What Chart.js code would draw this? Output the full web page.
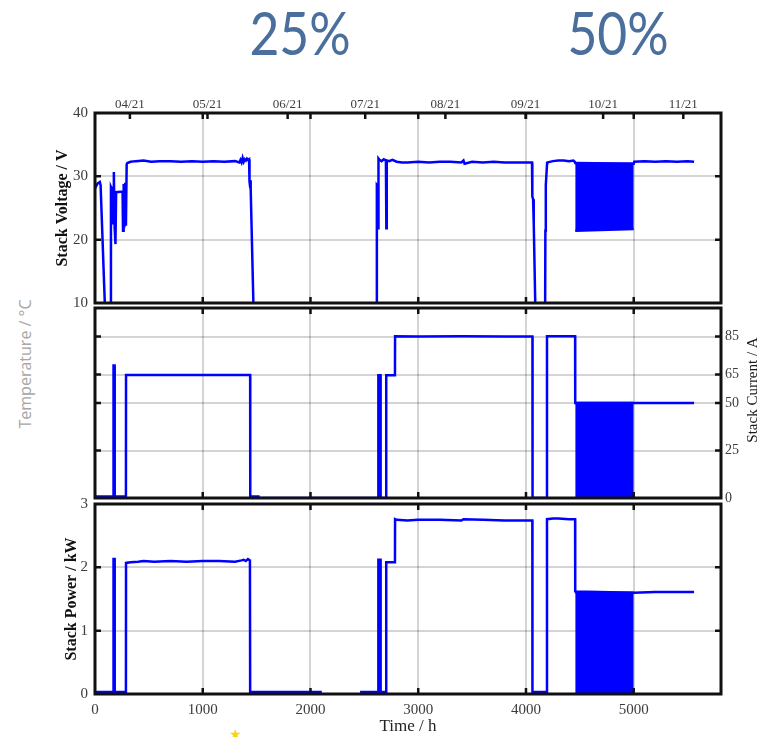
<!DOCTYPE html>
<html>
<head>
<meta charset="utf-8">
<title>Stack operation</title>
<script src="https://cdn.jsdelivr.net/npm/chart.js@4.4.1/dist/chart.umd.min.js"></script>
<style>
  html, body { margin: 0; padding: 0; background: #fff; overflow: hidden; }
  #wrap { position: relative; width: 762px; height: 737px; overflow: hidden; background: #fff; }
  canvas { position: absolute; left: 0; }
  .pct {
    position: absolute; top: 2px; width: 200px; text-align: center;
    font-family: Lato, 'Open Sans', sans-serif; font-size: 60px; line-height: 60px;
    color: #4a6f9c; transform: scaleX(0.86); transform-origin: center;
  }
  .temp {
    position: absolute; left: -75px; top: 354px; width: 200px; height: 20px;
    text-align: center; line-height: 20px; white-space: nowrap;
    font-family: 'Open Sans', sans-serif; font-size: 16px; color: #a6a6a6;
    transform: rotate(-90deg); transform-origin: center;
  }
  .star { position: absolute; left: 229px; top: 727px; font-family: 'DejaVu Sans', sans-serif;
    font-size: 14px; color: #f7d417; line-height: 14px; }
</style>
</head>
<body>
<div id="wrap">
  <div class="pct" style="left:200px">25%</div>
  <div class="pct" style="left:518px">50%</div>
  <div class="temp">Temperature / °C</div>
  <canvas id="cV" width="762" height="240" style="top:80px"></canvas>
  <canvas id="cI" width="762" height="230" style="top:290px"></canvas>
  <canvas id="cP" width="762" height="257" style="top:480px"></canvas>
  <div class="star">★</div>
</div>
<script>
// ---------- axes ----------
const xTicks = [0, 1000, 2000, 3000, 4000, 5000];
const monthHours = [324, 1044, 1788, 2508, 3252, 3996, 4716, 5460];
const monthLabels = ['04/21', '05/21', '06/21', '07/21', '08/21', '09/21', '10/21', '11/21'];
const voltTicks = [10, 20, 30, 40];
const currentTicks = [0, 25, 50, 65, 85];
const powerTicks = [0, 1, 2, 3];

// ---------- stack voltage (V) ----------
const voltHours = [0, 10, 25, 45, 52, 91, 96, 146, 148, 158, 163, 168, 175, 182, 190, 196, 256, 260, 266, 272,
  280, 287, 294, 300, 330, 380, 450, 520, 600, 700, 800, 900, 1000, 1100, 1200, 1300, 1340, 1350, 1360, 1370,
  1380, 1390, 1400, 1410, 1420, 1430, 1433, 1435, 1440, 1443, 1447, 1470, 1476, 2612, 2616, 2624, 2628, 2631,
  2640, 2660, 2680, 2700, 2704, 2708, 2730, 2760, 2800, 2850, 2900, 3000, 3100, 3200, 3300, 3400, 3420, 3430,
  3500, 3600, 3700, 3800, 3900, 4000, 4056, 4059, 4066, 4072, 4086, 4092, 4176, 4180, 4184, 4196, 4200, 4250,
  4300, 4350, 4400, 4440, 4452, 4457, 4700, 5000, 5005, 5100, 5200, 5300, 5400, 5500, 5560];
const voltValues = [28.1, 28.4, 28.9, 29.1, 28.6, 10, 0, 0, 28.3, 27.9, 22.4, 28.2, 30.7, 22.0, 19.3, 27.5, 27.6, 21.4, 28.8, 21.9,
  29.0, 22.2, 31.9, 32.1, 32.3, 32.4, 32.5, 32.3, 32.4, 32.4, 32.3, 32.4, 32.3, 32.4, 32.3, 32.4, 32.2, 32.6, 32.2, 32.9,
  32.3, 32.7, 32.5, 32.8, 32.6, 32.7, 32.4, 29.2, 28.3, 29.4, 28.0, 10, 0, 0, 28.6, 28.4, 21.8, 32.8,
  32.6, 32.4, 32.7, 32.5, 21.8, 32.5, 32.4, 32.6, 32.3, 32.2, 32.2, 32.3, 32.2, 32.3, 32.3, 32.2, 32.5, 32.0,
  32.3, 32.2, 32.3, 32.2, 32.2, 32.2, 32.2, 26.8, 26.4, 22.6, 10, 0, 0, 21.4, 28.6, 32.1, 32.2, 32.4,
  32.5, 32.5, 32.4, 32.5, 32.3, 32.1, 32.0, 32.0, 32.3, 32.4, 32.3, 32.4, 32.3, 32.4, 32.3];

// ---------- stack current (A) ----------
const currentHours = [0, 171, 172, 182, 183, 287, 288, 1440, 1441, 1517, 1518, 2629, 2630, 2650, 2651, 2702, 2703,
  2784, 2785, 3000, 3400, 3800, 4060, 4061, 4194, 4195, 4456, 4457, 5560];
const currentValues = [0.8, 0.8, 69.8, 69.8, 0.8, 0.8, 64.7, 64.7, 0.8, 0.8, 0, 0, 64.6, 64.6, 0, 0, 64.6,
  64.6, 85.1, 85.0, 85.1, 85.0, 85.0, 0, 0, 85.1, 85.1, 50.0, 50.0];

// ---------- stack power (kW) ----------
const powerHours = [0, 171, 172, 182, 183, 287, 288, 330, 400, 450, 550, 700, 850, 1000, 1150, 1300, 1360, 1380,
  1400, 1420, 1438, 1440, 2105, 2106, 2460, 2629, 2630, 2650, 2651, 2702, 2703, 2784, 2785, 2800, 2900, 3000,
  3200, 3400, 3420, 3600, 3800, 4000, 4059, 4060, 4194, 4195, 4250, 4300, 4400, 4456, 4457, 5000, 5200, 5400, 5560];
const powerValues = [0.03, 0.03, 2.13, 2.13, 0.03, 0.03, 2.07, 2.08, 2.09, 2.10, 2.09, 2.10, 2.09, 2.10, 2.10, 2.09, 2.11, 2.12,
  2.10, 2.13, 2.11, 0.03, 0.03, null, 0.03, 0.03, 2.12, 2.12, 0.03, 0.03, 2.08, 2.08, 2.76, 2.75, 2.74, 2.75,
  2.75, 2.74, 2.76, 2.75, 2.74, 2.74, 2.74, 0.03, 0.03, 2.76, 2.77, 2.77, 2.76, 2.76, 1.62, 1.60, 1.61, 1.61, 1.61];

// ---------- load-cycling period: extremes of the fast oscillation ----------
const cycleHours = [4457, 5000];
const cycleVoltHigh = [32.1, 32.0];
const cycleVoltLow = [21.4, 21.7];
const cycleCurrentHigh = [50, 50];
const cyclePowerHigh = [1.6, 1.6];

// ---------- styling ----------
const serif = "'Liberation Serif', 'Times New Roman', serif";
const blue = '#0000ff';
const gridColor = 'rgba(0,0,0,0.17)';
const tickColor = '#3c3c3c';
Chart.defaults.font.family = serif;

const pts = (h, v) => h.map((x, i) => ({ x, y: v[i] }));
const setTicks = list => s => { s.ticks = list.map(value => ({ value })); };

const trace = data => ({
  data, borderColor: blue, backgroundColor: blue, borderWidth: 2.5,
  pointRadius: 0, tension: 0, fill: false, spanGaps: false
});

// inward tick marks and the heavy frame around each panel
const frame = {
  id: 'frame',
  afterDatasetsDraw(chart) {
    const { ctx, chartArea: a, scales } = chart;
    const L = 6;
    ctx.save();
    ctx.strokeStyle = '#111';
    ctx.lineWidth = 2.5;
    ctx.beginPath();
    const xs = scales.x;
    xs.ticks.forEach(t => {
      const p = xs.getPixelForValue(t.value);
      if (p < a.left + 2 || p > a.right - 2) return;
      ctx.moveTo(p, a.bottom); ctx.lineTo(p, a.bottom - L);
      ctx.moveTo(p, a.top); ctx.lineTo(p, a.top + L);
    });
    if (scales.xm) {
      scales.xm.ticks.forEach(t => {
        const p = scales.xm.getPixelForValue(t.value);
        ctx.moveTo(p, a.top); ctx.lineTo(p, a.top + L);
      });
    }
    const ys = scales.y;
    ys.ticks.forEach(t => {
      const p = ys.getPixelForValue(t.value);
      if (p < a.top + 2 || p > a.bottom - 2) return;
      ctx.moveTo(a.left, p); ctx.lineTo(a.left + L, p);
      ctx.moveTo(a.right, p); ctx.lineTo(a.right - L, p);
    });
    ctx.stroke();
    ctx.lineWidth = 3;
    ctx.strokeRect(a.left, a.top, a.right - a.left, a.bottom - a.top);
    ctx.restore();
  }
};

// right-hand axis title, reading upwards like the left ones
const sideTitle = {
  id: 'sideTitle',
  afterDraw(chart, args, o) {
    if (!o || !o.text) return;
    const { ctx, chartArea: a } = chart;
    ctx.save();
    ctx.font = o.font;
    ctx.fillStyle = o.color;
    ctx.translate(a.right + o.dx, (a.top + a.bottom) / 2 + o.dy);
    ctx.rotate(-Math.PI / 2);
    ctx.textAlign = 'center';
    ctx.textBaseline = 'middle';
    ctx.fillText(o.text, 0, 0);
    ctx.restore();
  }
};

const timeAxis = extra => Object.assign({
  type: 'linear', min: 0, max: 5810, position: 'bottom',
  afterBuildTicks: setTicks(xTicks),
  grid: { color: gridColor, lineWidth: 2, drawTicks: false },
  border: { display: false },
  ticks: { display: false }
}, extra);

const baseOptions = (padding, scales, extraPlugins) => ({
  responsive: false,
  animation: false,
  layout: { padding },
  plugins: Object.assign({ legend: { display: false }, tooltip: { enabled: false } }, extraPlugins || {}),
  scales
});

// ---------- panel 1: voltage ----------
new Chart(document.getElementById('cV'), {
  type: 'line',
  data: { datasets: [
    trace(pts(voltHours, voltValues)),
    Object.assign(trace(pts(cycleHours, cycleVoltHigh)), { fill: '+1' }),
    trace(pts(cycleHours, cycleVoltLow))
  ] },
  options: baseOptions({ left: 0, right: 41, top: 0, bottom: 0 }, {
    x: timeAxis({ afterFit: s => { s.height = 17; } }),
    xm: {
      type: 'linear', min: 0, max: 5810, position: 'top',
      afterBuildTicks: setTicks(monthHours),
      grid: { display: false, drawTicks: false },
      border: { display: false },
      ticks: { callback: (v, i) => monthLabels[i], font: { size: 13 }, color: tickColor,
        padding: 1, maxRotation: 0, autoSkip: false },
      afterFit: s => { s.height = 33; }
    },
    y: {
      min: 10, max: 40,
      afterBuildTicks: setTicks(voltTicks),
      grid: { color: gridColor, lineWidth: 2, drawTicks: false },
      border: { display: false },
      ticks: { padding: 7, font: { size: 15 }, color: tickColor, callback: v => String(v) },
      title: { display: true, text: 'Stack Voltage / V', color: '#111',
        font: { size: 16, weight: 'bold' }, padding: { top: 53, bottom: 0 } },
      afterFit: s => { s.width = 95; }
    }
  }),
  plugins: [frame]
});

// ---------- panel 2: current ----------
new Chart(document.getElementById('cI'), {
  type: 'line',
  data: { datasets: [
    trace(pts(currentHours, currentValues)),
    Object.assign(trace(pts(cycleHours, cycleCurrentHigh)), { fill: 'origin' })
  ] },
  options: baseOptions({ left: 0, right: 0, top: 18, bottom: 0 }, {
    x: timeAxis({ afterFit: s => { s.height = 22; } }),
    y: {
      position: 'left', min: 0, max: 100,
      afterBuildTicks: setTicks(currentTicks),
      grid: { color: gridColor, lineWidth: 2, drawTicks: false },
      border: { display: false },
      ticks: { display: false },
      afterFit: s => { s.width = 95; }
    },
    yr: {
      position: 'right', min: 0, max: 100,
      afterBuildTicks: setTicks(currentTicks),
      grid: { display: false, drawTicks: false },
      border: { display: false },
      ticks: { padding: 4, font: { size: 14 }, color: tickColor, callback: v => String(v) },
      afterFit: s => { s.width = 41; }
    }
  }, { sideTitle: { text: 'Stack Current / A', font: "15px " + serif, color: '#1a1a1a', dx: 32, dy: -13 } }),
  plugins: [frame, sideTitle]
});

// ---------- panel 3: power ----------
new Chart(document.getElementById('cP'), {
  type: 'line',
  data: { datasets: [
    trace(pts(powerHours, powerValues)),
    Object.assign(trace(pts(cycleHours, cyclePowerHigh)), { fill: 'origin' })
  ] },
  options: baseOptions({ left: 0, right: 41, top: 24, bottom: 0 }, {
    x: timeAxis({
      ticks: { display: true, padding: 7, font: { size: 15 }, color: tickColor,
        callback: v => String(v), maxRotation: 0, autoSkip: false },
      title: { display: true, text: 'Time / h', color: '#222', font: { size: 17 },
        padding: { top: 0, bottom: 0 } },
      afterFit: s => { s.height = 43; }
    }),
    y: {
      min: 0, max: 3,
      afterBuildTicks: setTicks(powerTicks),
      grid: { color: gridColor, lineWidth: 2, drawTicks: false },
      border: { display: false },
      ticks: { padding: 7, font: { size: 15 }, color: tickColor, callback: v => String(v) },
      title: { display: true, text: 'Stack Power / kW', color: '#111',
        font: { size: 16, weight: 'bold' }, padding: { top: 62, bottom: 0 } },
      afterFit: s => { s.width = 95; }
    }
  }),
  plugins: [frame]
});
</script>
</body>
</html>
